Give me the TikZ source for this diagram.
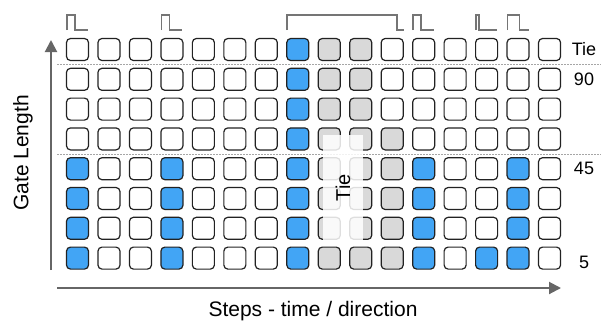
\documentclass[tikz,border=0pt]{standalone}
\usepackage{fontspec}
\setmainfont{Liberation Sans}
\usetikzlibrary{arrows.meta, positioning}
\definecolor{gateblue}{HTML}{42A5F5}
\definecolor{tiegray}{HTML}{D9D9D9}
\definecolor{axisgray}{HTML}{666666}
\definecolor{cellline}{HTML}{222222}
\begin{document}
\begin{tikzpicture}[
  x=1pt, y=-1pt,
  cell/.style={draw=cellline, line width=1.2pt, rounded corners=4pt, minimum size=22pt, inner sep=0pt},
  plain/.style={fill=white},
  gate/.style={fill=gateblue},
  tied/.style={fill=tiegray},
  pulse/.style={draw=axisgray!90, line width=1.8pt},
  axis/.style={draw=axisgray, line width=2pt, -{Triangle[length=12pt, width=12pt]}},
  sep/.style={draw=gray!70, line width=0.8pt, dash pattern=on 2pt off 1pt},
  lbl/.style={font=\fontsize{18}{20}\selectfont, inner sep=0pt},
  title/.style={font=\fontsize{21}{24}\selectfont, inner sep=0pt}
]
\useasboundingbox (0,0) rectangle (605,322);
% cell patterns, top row first
\foreach \r/\pat in {
  0/{plain,plain,plain,plain,plain,plain,plain,gate,tied,tied,plain,plain,plain,plain,plain,plain},
  1/{plain,plain,plain,plain,plain,plain,plain,gate,tied,tied,plain,plain,plain,plain,plain,plain},
  2/{plain,plain,plain,plain,plain,plain,plain,gate,tied,tied,plain,plain,plain,plain,plain,plain},
  3/{plain,plain,plain,plain,plain,plain,plain,gate,tied,tied,tied,plain,plain,plain,plain,plain},
  4/{gate,plain,plain,gate,plain,plain,plain,gate,tied,tied,tied,gate,plain,plain,gate,plain},
  5/{gate,plain,plain,gate,plain,plain,plain,gate,tied,tied,tied,gate,plain,plain,gate,plain},
  6/{gate,plain,plain,gate,plain,plain,plain,gate,tied,tied,tied,gate,plain,plain,gate,plain},
  7/{gate,plain,plain,gate,plain,plain,plain,gate,tied,tied,tied,gate,plain,gate,gate,plain}}
  \foreach \k [count=\c from 0] in \pat
    \node[cell, \k] (c\r-\c) at ({77.5+31.47*\c},{49.5+29.8*\r}) {};
% level separators
\draw[sep] (57,64) -- (601,64);
\draw[sep] (57,154) -- (601,154);
% gate pulses above the columns
\foreach \c/\w in {0/8, 3/8, 11/8, 13/3, 14/12}
  \draw[pulse] ({67+31.47*\c},30) |- ++(\w,-15) |- ({88+31.47*\c},30);
\draw[pulse] (287,30) |- (397,15) |- (404,30);
% tie overlay
\node[fill=white, fill opacity=0.85, minimum width=40pt, minimum height=105pt, inner sep=0pt] (tiebox) at (343,187.5) {};
\node[title, font=\fontsize{20}{22}\selectfont, rotate=90] (tielbl) at (tiebox) {Tie};
% level labels
\node[lbl] (ltie) at (584,49.5) {Tie};
\node[lbl] (l90) at (584,79) {90};
\node[lbl] (l45) at (584,168.5) {45};
\node[lbl] (l5) at (584,262) {5};
% axes
\coordinate (ybot) at (51,270);
\coordinate (ytop) at (51,40);
\coordinate (xleft) at (57,288);
\coordinate (xright) at (561,288);
\draw[axis] (ybot) -- (ytop);
\draw[axis] (xleft) -- (xright);
\node[title, rotate=90] (ylbl) at (23,153) {Gate Length};
\node[title] (xlbl) at (313,311) {Steps - time / direction};
\end{tikzpicture}
\end{document}
